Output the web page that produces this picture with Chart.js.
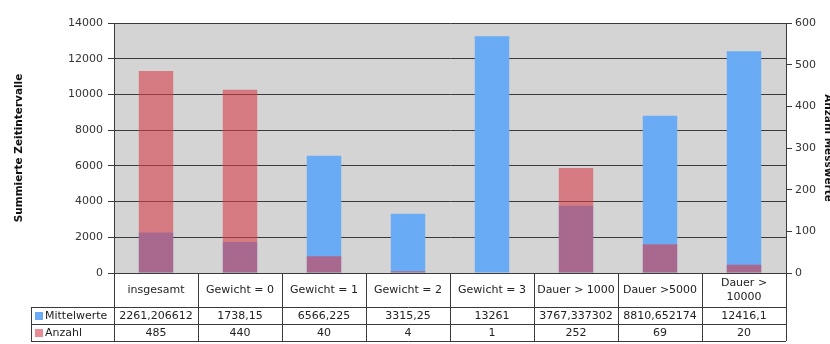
<!DOCTYPE html>
<html>
<head>
<meta charset="utf-8">
<script src="https://cdn.jsdelivr.net/npm/chart.js@4.4.1/dist/chart.umd.min.js"></script>
<style>
  html, body { margin: 0; padding: 0; background: #fff; }
  canvas { display: block; }
</style>
</head>
<body>
<canvas id="barChart" width="830" height="344"></canvas>
<script>
// categories (last one wraps onto two lines in the table header)
const categories = ["insgesamt", "Gewicht = 0", "Gewicht = 1", "Gewicht = 2", "Gewicht = 3", "Dauer > 1000", "Dauer >5000", ["Dauer >", "10000"]];
const mittelwerte = [2261.206612, 1738.15, 6566.225, 3315.25, 13261, 3767.337302, 8810.652174, 12416.1];
const anzahl = [485, 440, 40, 4, 1, 252, 69, 20];
const seriesNames = ["Mittelwerte", "Anzahl"];

// axis ranges
const leftTicks = [0, 2000, 4000, 6000, 8000, 10000, 12000, 14000];
const rightTicks = [0, 100, 200, 300, 400, 500, 600];

const blue = "#6aabf6";
const red = "rgba(214, 60, 72, 0.59)";
const lineColor = "#3a3a3a";
const font = "DejaVu Sans";

// german decimal comma for the table
function fmt(v) {
  return String(v).replace(".", ",");
}

// gray plot background + white page
const backgroundPlugin = {
  id: "plotBackground",
  beforeDraw(chart) {
    const { ctx, chartArea } = chart;
    ctx.save();
    ctx.fillStyle = "#ffffff";
    ctx.fillRect(0, 0, chart.width, chart.height);
    ctx.fillStyle = "#d4d4d4";
    ctx.fillRect(chartArea.left, chartArea.top, chartArea.right - chartArea.left, chartArea.bottom - chartArea.top);
    ctx.restore();
  },
};

// data table under the x axis, columns follow the category scale
const tablePlugin = {
  id: "dataTable",
  afterDraw(chart) {
    const ctx = chart.ctx;
    const xs = chart.scales.x;
    const n = categories.length;
    const colW = (xs.right - xs.left) / n;
    const top = Math.round(chart.chartArea.bottom);
    const headBottom = top + 34;
    const row1 = headBottom + 17;
    const row2 = row1 + 17;
    const tableLeft = 31;
    const a = (v) => Math.round(v) + 0.5;

    ctx.save();
    ctx.strokeStyle = lineColor;
    ctx.lineWidth = 1;
    ctx.beginPath();
    for (let i = 0; i <= n; i++) {
      const bx = a(xs.left + i * colW);
      ctx.moveTo(bx, top);
      ctx.lineTo(bx, row2);
    }
    ctx.moveTo(a(tableLeft), headBottom);
    ctx.lineTo(a(tableLeft), row2);
    [headBottom, row1, row2].forEach((y) => {
      ctx.moveTo(tableLeft, a(y));
      ctx.lineTo(xs.right, a(y));
    });
    ctx.stroke();

    ctx.fillStyle = "#222";
    ctx.font = "11px '" + font + "'";
    ctx.textAlign = "center";
    ctx.textBaseline = "middle";

    // header labels
    categories.forEach((label, i) => {
      const cx = xs.getPixelForValue(i);
      const lines = Array.isArray(label) ? label : [label];
      const lh = 14;
      const startY = (top + headBottom) / 2 - ((lines.length - 1) * lh) / 2;
      lines.forEach((t, k) => ctx.fillText(t, cx, startY + k * lh));
    });

    // value rows
    const y1 = (headBottom + row1) / 2 + 0.5;
    const y2 = (row1 + row2) / 2 + 0.5;
    mittelwerte.forEach((v, i) => ctx.fillText(fmt(v), xs.getPixelForValue(i), y1));
    anzahl.forEach((v, i) => ctx.fillText(fmt(v), xs.getPixelForValue(i), y2));

    // row labels with colour keys
    ctx.textAlign = "left";
    ctx.fillStyle = blue;
    ctx.fillRect(35, Math.round(y1) - 4, 8, 8);
    ctx.fillStyle = red;
    ctx.fillRect(35, Math.round(y2) - 4, 8, 8);
    ctx.fillStyle = "#222";
    ctx.fillText(seriesNames[0], 45, y1);
    ctx.fillText(seriesNames[1], 45, y2);
    ctx.restore();
  },
};

const ctx = document.getElementById("barChart");
const barChart = new Chart(ctx, {
  type: "bar",
  data: {
    labels: categories,
    datasets: [
      {
        label: seriesNames[0],
        data: mittelwerte,
        backgroundColor: blue,
        yAxisID: "yLeft",
        grouped: false,
        order: 2,
        barPercentage: 0.41,
        categoryPercentage: 1,
      },
      {
        label: seriesNames[1],
        data: anzahl,
        backgroundColor: red,
        yAxisID: "yRight",
        grouped: false,
        order: 1,
        barPercentage: 0.41,
        categoryPercentage: 1,
      },
    ],
  },
  options: {
    responsive: false,
    animation: false,
    devicePixelRatio: 1,
    layout: { padding: { top: 23, left: 0, right: 0, bottom: 0 } },
    plugins: {
      legend: { display: false },
      tooltip: { enabled: false },
    },
    scales: {
      x: {
        grid: { display: false },
        border: { display: false },
        ticks: { display: false },
        afterFit(scale) {
          scale.height = 71;
        },
      },
      yLeft: {
        position: "left",
        min: leftTicks[0],
        max: leftTicks[leftTicks.length - 1],
        ticks: {
          stepSize: leftTicks[1] - leftTicks[0],
          color: "#333",
          padding: 5,
          font: { family: font, size: 11 },
          callback: (value) => String(value), // no thousands separator
        },
        grid: { color: lineColor, tickLength: 6, lineWidth: 1 },
        border: { display: true, color: lineColor },
        title: {
          display: true,
          text: "Summierte Zeitintervalle",
          color: "#111",
          padding: { top: 13, bottom: 0 },
          font: { family: font, size: 10.5, weight: "bold" },
        },
        afterFit(scale) {
          scale.width = 114;
        },
      },
      yRight: {
        position: "right",
        min: rightTicks[0],
        max: rightTicks[rightTicks.length - 1],
        ticks: {
          stepSize: rightTicks[1] - rightTicks[0],
          color: "#333",
          padding: 3,
          font: { family: font, size: 11 },
          callback: (value) => String(value),
        },
        grid: { drawOnChartArea: false, color: lineColor, tickLength: 6 },
        border: { display: true, color: lineColor },
        title: {
          display: true,
          text: "Anzahl Messwerte",
          color: "#111",
          padding: { top: -4, bottom: 0 },
          font: { family: font, size: 10.5, weight: "bold" },
        },
        afterFit(scale) {
          scale.width = 44;
        },
      },
    },
  },
  plugins: [backgroundPlugin, tablePlugin],
});
</script>
</body>
</html>
